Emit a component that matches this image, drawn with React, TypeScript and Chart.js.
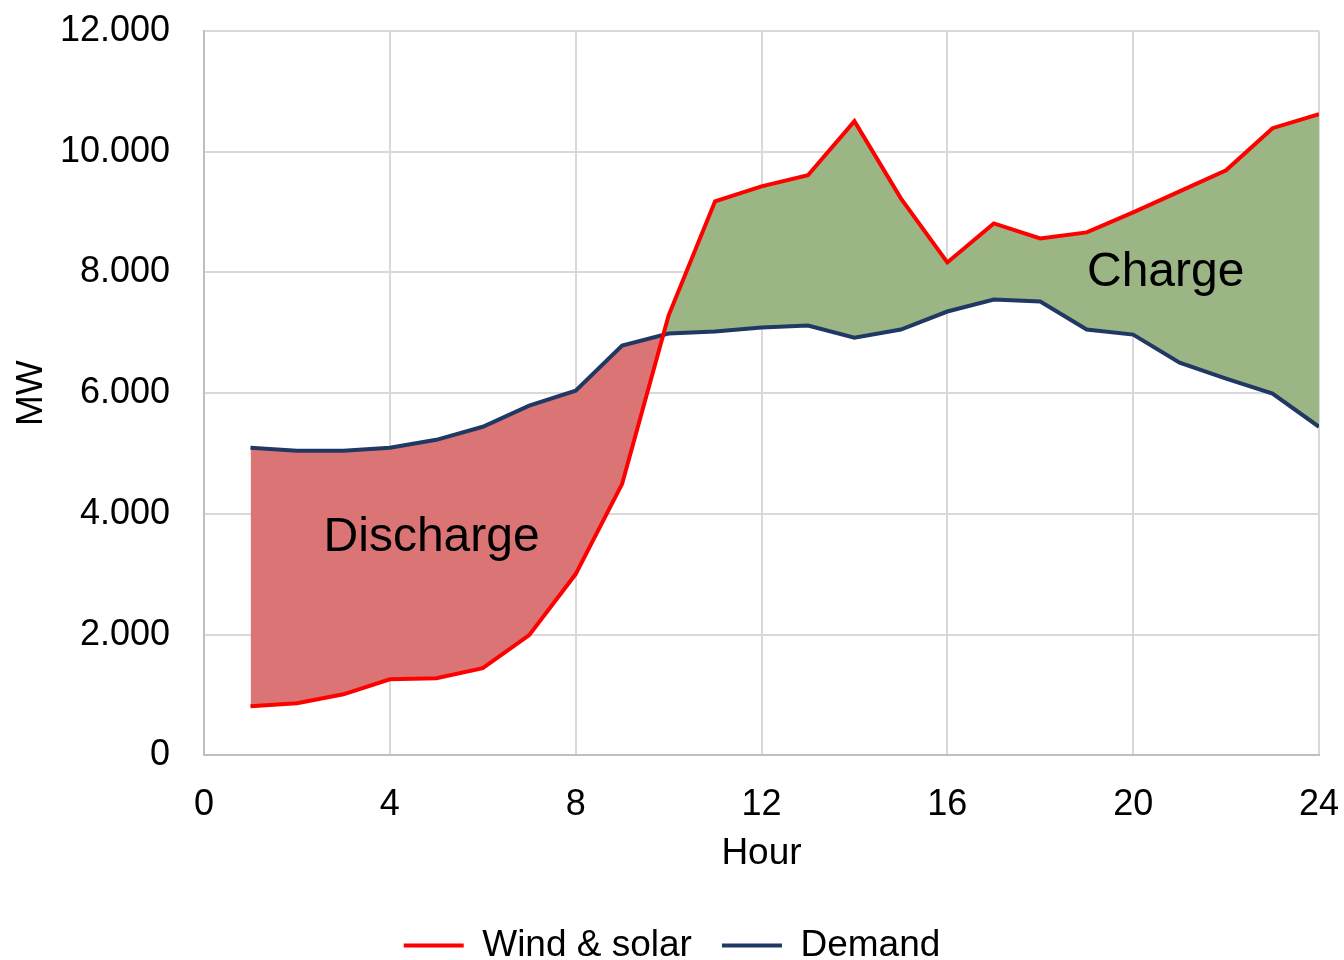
import React, { useEffect, useRef } from "react";
import { Chart, registerables } from "chart.js";

Chart.register(...registerables);

const hours = [1, 2, 3, 4, 5, 6, 7, 8, 9, 10, 11, 12, 13, 14, 15, 16, 17, 18, 19, 20, 21, 22, 23, 24];
const windSolar = [813, 863, 1012, 1261, 1278, 1444, 1992, 3004, 4498, 7286, 9178, 9427, 9610, 10506, 9228, 8166, 8813, 8564, 8664, 8996, 9344, 9693, 10390, 10622];
const demand = [5095, 5046, 5046, 5095, 5228, 5444, 5793, 6041, 6788, 6988, 7021, 7087, 7120, 6921, 7054, 7353, 7552, 7519, 7054, 6971, 6506, 6241, 5992, 5444];
const seriesNames = ["Wind & solar", "Demand"];
const annotations = [
  { text: "Discharge", x: 4.9, y: 3600 },
  { text: "Charge", x: 20.7, y: 8000 },
];

const FONT = "'Liberation Sans', Arial, sans-serif";

function fmt(v: number): string {
  const s = Math.round(v).toString();
  return s.replace(/\B(?=(\d{3})+(?!\d))/g, ".");
}

const textPlugin = {
  id: "areaText",
  afterDatasetsDraw(chart: any) {
    const { ctx, scales } = chart;
    ctx.save();
    ctx.font = `48px ${FONT}`;
    ctx.fillStyle = "#000000";
    ctx.textAlign = "center";
    ctx.textBaseline = "middle";
    annotations.forEach((a) => {
      ctx.fillText(a.text, scales.x.getPixelForValue(a.x), scales.y.getPixelForValue(a.y));
    });
    ctx.restore();
  },
};

export default function App() {
  const ref = useRef<HTMLCanvasElement>(null);
  useEffect(() => {
    if (!ref.current) return;
    const chart = new Chart(ref.current, {
      type: "line",
      data: {
        datasets: [
          {
            label: seriesNames[0],
            data: hours.map((h, i) => ({ x: h, y: windSolar[i] })),
            borderColor: "#FF0000",
            backgroundColor: "#FF0000",
            borderWidth: 4,
            pointRadius: 0,
            tension: 0,
            fill: { target: 1, above: "#9BB585", below: "#DB7474" },
          },
          {
            label: seriesNames[1],
            data: hours.map((h, i) => ({ x: h, y: demand[i] })),
            borderColor: "#203864",
            backgroundColor: "#203864",
            borderWidth: 4,
            pointRadius: 0,
            tension: 0,
            fill: false,
          },
        ],
      },
      options: {
        responsive: false,
        animation: false,
        layout: { padding: { top: 0, right: 0, left: 0, bottom: -14 } },
        plugins: {
          filler: { drawTime: "beforeDatasetsDraw" },
          legend: {
            position: "bottom",
            labels: {
              font: { family: FONT, size: 37 },
              color: "#000000",
              boxWidth: 60,
              boxHeight: 4,
              padding: 30,
              generateLabels: (c: any) =>
                c.data.datasets.map((d: any, i: number) => ({
                  text: d.label,
                  fillStyle: d.borderColor,
                  strokeStyle: d.borderColor,
                  lineWidth: 0,
                  datasetIndex: i,
                  hidden: false,
                })),
            },
          },
          tooltip: { enabled: false },
        },
        scales: {
          x: {
            type: "linear",
            min: 0,
            max: 24,
            ticks: { stepSize: 4, color: "#000000", font: { family: FONT, size: 36 }, padding: 28 },
            grid: { color: "#D9D9D9", lineWidth: 2, drawTicks: false },
            border: { color: "#BFBFBF", width: 2 },
            title: { display: true, text: "Hour", color: "#000000", font: { family: FONT, size: 37 }, padding: { top: -23, bottom: 21 } },
            afterFit: (s: any) => {
              s.paddingLeft = 0;
              s.paddingRight = 25;
            },
          },
          y: {
            min: 0,
            max: 12000,
            ticks: { stepSize: 2000, color: "#000000", font: { family: FONT, size: 36 }, padding: 34, callback: (v: any) => fmt(Number(v)) },
            grid: { color: "#D9D9D9", lineWidth: 2, drawTicks: false },
            border: { color: "#BFBFBF", width: 2 },
            title: { display: true, text: "MW", color: "#000000", font: { family: FONT, size: 37 }, padding: { top: 10, bottom: 0 } },
            afterFit: (s: any) => {
              s.width = 204;
              s.paddingTop = 31;
              s.paddingBottom = 0;
            },
          },
        },
      },
      plugins: [textPlugin],
    });
    return () => chart.destroy();
  }, []);
  return (
    <div style={{ position: "fixed", left: 0, top: 0, width: 1344, height: 960, background: "#ffffff" }}>
      <canvas ref={ref} width={1344} height={960} />
    </div>
  );
}
